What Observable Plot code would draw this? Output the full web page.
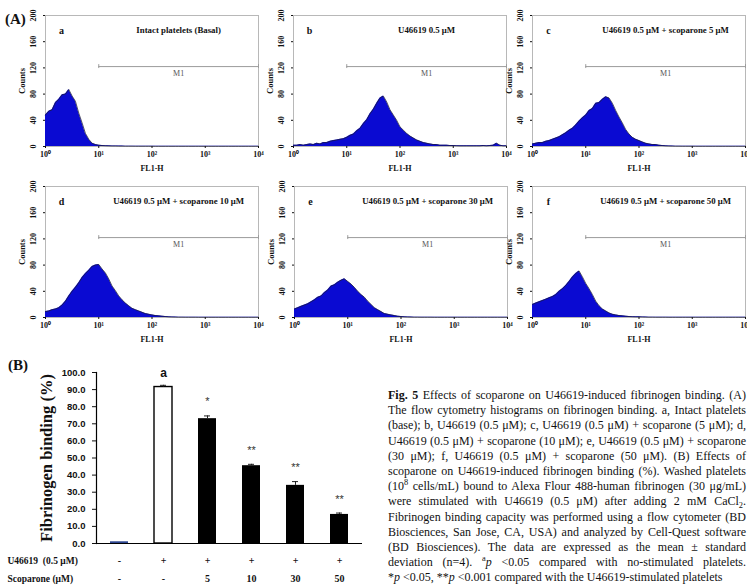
<!DOCTYPE html>
<html>
<head>
<meta charset="utf-8">
<script src="https://cdn.jsdelivr.net/npm/d3@7"></script>
<script src="https://cdn.jsdelivr.net/npm/@observablehq/plot@0.6"></script>
<style>
  body { margin: 0; background: #fff; }
  #fig { position: relative; width: 747px; height: 586px; overflow: hidden; background: #fff; font-family: "Liberation Serif", serif; color: #111; }
  .panel { position: absolute; }
  .panel svg { overflow: visible; }
  .tag { position: absolute; font-weight: bold; font-size: 15px; line-height: 1; }
  #caption { position: absolute; left: 388px; top: 388px; width: 358px; font-size: 12px; line-height: 15.2px; color: #111; }
  #caption div { white-space: nowrap; text-align: justify; text-align-last: justify; }
  #caption div.last { text-align-last: left; }
  #caption sup, #caption sub { font-size: 0.7em; line-height: 0; }
</style>
</head>
<body>
<div id="fig">
  <div class="tag" style="left:5px;top:12px">(A)</div>
  <div class="tag" style="left:8px;top:358px">(B)</div>
  <div id="caption"></div>
</div>
<script>
// ---- (A) flow cytometry histograms: counts per FL1-H bin, 16 bins per decade from 10^0 to 10^4 ----
const binsPerDecade = 16;
const panelLetters = ["a", "b", "c", "d", "e", "f"];
const panelTitles = [
  "Intact platelets (Basal)",
  "U46619 0.5 μM",
  "U46619 0.5 μM + scoparone 5 μM",
  "U46619 0.5 μM + scoparone 10 μM",
  "U46619 0.5 μM + scoparone 30 μM",
  "U46619 0.5 μM + scoparone 50 μM"
];
const countsBasal = [
  48, 54, 56, 67, 72, 79, 80, 87, 77, 69, 51, 36, 20, 11, 5, 3,
  2, 1.5, 1.2, 1, 0.8, 0.8, 0.6, 0.6, 0.5, 0.5, 0.5, 0.4, 0.4, 0.4, 0.4, 0.4,
  0.4, 0.3, 0.3, 0.3, 0.3, 0.3, 0.3, 0.3, 0.3, 0.3, 0.3, 0.3, 0.3, 0.3, 0.3, 0.3,
  0.3, 0.3, 0.3, 0.3, 0.3, 0.3, 0.3, 0.3, 0.3, 0.3, 0.3, 0.3, 0.3, 0.3, 0.3, 0.3, 0.3
];
const countsU46619 = [
  2, 2, 3, 2, 3, 4, 3, 5, 4, 6, 6, 8, 9, 10, 11, 12,
  14, 17, 19, 24, 28, 35, 41, 50, 57, 66, 74, 77, 68, 56, 48, 40,
  30, 25, 20, 16, 13, 10, 8, 6, 5, 4, 3, 3, 2, 2, 2, 1.5,
  1.5, 1.2, 1, 1, 1, 1, 1, 1, 1, 1.5, 1, 1.5, 2, 5, 2, 1, 1
];
const countsScop5 = [
  4, 5, 6, 6, 8, 9, 11, 13, 15, 18, 21, 25, 28, 33, 39, 44,
  48, 55, 58, 66, 67, 72, 76, 74, 66, 55, 45, 36, 26, 19, 14, 11,
  9, 7, 5, 4, 3, 3, 2, 1.5, 1, 0.8, 0.6, 0.5, 0.5, 0.4, 0.4, 0.4,
  0.4, 0.3, 0.3, 0.3, 0.3, 0.3, 0.3, 0.3, 0.3, 0.3, 0.3, 0.3, 0.3, 0.3, 0.3, 0.3, 0.3
];
const countsScop10 = [
  9, 10, 12, 13, 15, 19, 25, 33, 40, 46, 53, 61, 67, 72, 78, 80,
  81, 74, 68, 59, 48, 41, 33, 27, 22, 18, 14, 12, 10, 8, 6, 5,
  4, 3, 2.5, 2, 1.5, 1, 0.8, 0.6, 0.5, 0.5, 0.4, 0.4, 0.4, 0.4, 0.3, 0.3,
  0.3, 0.3, 0.3, 0.3, 0.3, 0.3, 0.3, 0.3, 0.3, 0.3, 0.3, 0.3, 0.3, 0.3, 0.3, 0.3, 0.3
];
const countsScop30 = [
  13, 15, 17, 19, 21, 24, 27, 31, 33, 38, 42, 48, 50, 54, 57, 59,
  55, 51, 46, 40, 35, 31, 25, 20, 15, 12, 9, 6, 5, 4, 3, 2,
  1.5, 1, 0.8, 0.6, 0.5, 0.5, 0.4, 0.4, 0.4, 0.4, 0.3, 0.3, 0.3, 0.3, 0.3, 0.3,
  0.3, 0.3, 0.3, 0.3, 0.3, 0.3, 0.3, 0.3, 0.3, 0.3, 0.3, 0.3, 0.3, 0.3, 0.3, 0.3, 0.3
];
const countsScop50 = [
  20, 22, 24, 26, 28, 30, 32, 35, 40, 44, 49, 55, 62, 67, 71, 62,
  52, 44, 35, 25, 18, 13, 10, 7, 5, 4, 3, 2.5, 2, 1.5, 1.2, 1,
  1, 0.8, 0.6, 0.5, 0.5, 0.4, 0.4, 0.4, 0.4, 0.3, 0.3, 0.3, 0.3, 0.3, 0.3, 0.3,
  0.3, 0.3, 0.3, 0.3, 0.3, 0.3, 0.3, 0.3, 0.3, 0.3, 0.3, 0.3, 0.3, 0.3, 0.3, 0.3, 0.3
];
const histCounts = [countsBasal, countsU46619, countsScop5, countsScop10, countsScop30, countsScop50];
const fl1Ticks = [1, 10, 100, 1000, 10000];
const fl1TickLabels = ["10⁰", "10¹", "10²", "10³", "10⁴"];
const countTicks = [0, 40, 80, 120, 160, 200];
const gateM1 = [10, 10000];   // M1 marker range on FL1-H
const m1Level = 122;          // height at which the M1 marker is drawn

// ---- (B) fibrinogen binding (%), mean ± SD ----
const groups = ["basal", "U46619", "scop5", "scop10", "scop30", "scop50"];
const bindingMean = [1.0, 91.5, 73.0, 45.5, 34.0, 17.0];
const bindingSD = [0.2, 1.0, 1.6, 0.8, 2.2, 0.8];
const sigMarks = ["", "a", "*", "**", "**", "**"];
const u46619Row = ["-", "+", "+", "+", "+", "+"];
const scoparoneRow = ["-", "-", "5", "10", "30", "50"];
const bindingTicks = [0, 10, 20, 30, 40, 50, 60, 70, 80, 90, 100];

const captionLines = [
  '<b>Fig. 5</b> Effects of scoparone on U46619-induced fibrinogen binding. (A)',
  'The flow cytometry histograms on fibrinogen binding. a, Intact platelets',
  '(base); b, U46619 (0.5 μM); c, U46619 (0.5 μM) + scoparone (5 μM); d,',
  'U46619 (0.5 μM) + scoparone (10 μM); e, U46619 (0.5 μM) + scoparone',
  '(30 μM); f, U46619 (0.5 μM) + scoparone (50 μM). (B) Effects of',
  'scoparone on U46619-induced fibrinogen binding (%). Washed platelets',
  '(10<sup>8</sup> cells/mL) bound to Alexa Flour 488-human fibrinogen (30 μg/mL)',
  'were stimulated with U46619 (0.5 μM) after adding 2 mM CaCl<sub>2</sub>.',
  'Fibrinogen binding capacity was performed using a flow cytometer (BD',
  'Biosciences, San Jose, CA, USA) and analyzed by Cell-Quest software',
  '(BD Biosciences). The data are expressed as the mean ± standard',
  'deviation (n=4). <sup>a</sup><i>p</i> &lt;0.05 compared with no-stimulated platelets.',
  '*<i>p</i> &lt;0.05, **<i>p</i> &lt;0.001 compared with the U46619-stimulated platelets'
];

const serif = '"Liberation Serif", "Times New Roman", serif';
const sans = '"Liberation Sans", Arial, sans-serif';

function histogram(counts, k) {
  const data = counts.map((c, i) => ({fl1: 10 ** (i / binsPerDecade), count: c}));
  const labelFor = new Map(fl1Ticks.map((t, i) => [t, fl1TickLabels[i]]));
  return Plot.plot({
    width: 260, height: 175,
    marginLeft: 45, marginRight: 2, marginTop: 15, marginBottom: 29,
    style: {background: "transparent", fontFamily: serif, fontWeight: "bold", fontSize: "8px", overflow: "visible", color: "#111"},
    x: {type: "log", domain: [1, 10000], axis: null},
    y: {domain: [0, 200], axis: null},
    marks: [
      Plot.frame({stroke: "#b8b8b8"}),
      Plot.areaY(data, {x: "fl1", y: "count", fill: "#0a0ad2"}),
      Plot.lineY(data, {x: "fl1", y: "count", stroke: "#1c1c3a", strokeWidth: 1, strokeOpacity: 0.75}),
      Plot.ruleY([{y: m1Level, x1: gateM1[0], x2: gateM1[1]}], {y: "y", x1: "x1", x2: "x2", stroke: "#9c9c9c"}),
      Plot.ruleX(gateM1.map(g => ({x: g, y1: m1Level - 3, y2: m1Level + 3})), {x: "x", y1: "y1", y2: "y2", stroke: "#9c9c9c"}),
      Plot.text(["M1"], {x: 316, y: m1Level - 11, fill: "#555", fontWeight: "normal", fontSize: 8}),
      Plot.text([panelLetters[k]], {x: 2, y: 177, fontSize: 10}),
      Plot.text([panelTitles[k]], {x: 316, y: 177, fontSize: 8.8}),
      Plot.axisX({ticks: fl1Ticks, tickFormat: d => labelFor.get(d), tickSize: 2, tickPadding: 3, label: null}),
      Plot.axisY({ticks: countTicks, tickFormat: () => "", tickSize: 2, label: null}),
      Plot.text(countTicks, {y: d => d, text: d => String(d), frameAnchor: "left", dx: -12, rotate: -90,
        textAnchor: "middle", lineAnchor: "middle"}),
      Plot.text(["FL1-H"], {frameAnchor: "bottom", dy: 22, lineAnchor: "middle"}),
      Plot.text(["Counts"], {frameAnchor: "left", dx: -23, rotate: -90, fontSize: 8.5,
        textAnchor: "middle", lineAnchor: "middle"})
    ]
  });
}

const fig = document.getElementById("fig");
const panelPos = [[0, 0], [248, 0], [487, 0], [0, 171], [249, 171], [487, 171]];
histCounts.forEach((counts, k) => {
  const wrap = document.createElement("div");
  wrap.className = "panel";
  wrap.style.left = panelPos[k][0] + "px";
  wrap.style.top = panelPos[k][1] + "px";
  wrap.appendChild(histogram(counts, k));
  fig.appendChild(wrap);
});

// bar chart
const bars = groups.map((g, i) => ({
  group: g, i, mean: bindingMean[i], sd: bindingSD[i],
  sig: sigMarks[i], u: u46619Row[i], s: scoparoneRow[i]
}));
const barFill = d => d.i === 0 ? "#2d4691" : d.i === 1 ? "#ffffff" : "#000000";
const barChart = Plot.plot({
  width: 380, height: 231,
  marginLeft: 96, marginRight: 18, marginTop: 17, marginBottom: 43,
  style: {background: "transparent", overflow: "visible", color: "#111", fontFamily: serif},
  x: {type: "band", domain: groups, paddingInner: 0.6, paddingOuter: 0.3, axis: null},
  y: {domain: [0, 100], axis: null},
  marks: [
    Plot.barY(bars, {x: "group", y: "mean", fill: barFill, stroke: d => d.i === 1 ? "#000" : "none", strokeWidth: 1.4}),
    Plot.ruleX(bars.filter(d => d.i > 0), {x: "group", y1: "mean", y2: d => d.mean + d.sd, stroke: "#222"}),
    Plot.tickY(bars.filter(d => d.i > 0), {x: "group", y: d => d.mean + d.sd, insetLeft: 6, insetRight: 6, stroke: "#222"}),
    Plot.ruleY([0], {stroke: "#000", strokeWidth: 1.2}),
    Plot.frame({anchor: "left", stroke: "#000", strokeWidth: 1.2}),
    Plot.axisY({ticks: bindingTicks, tickFormat: d => d.toFixed(1), tickSize: 4, tickPadding: 7,
      fontWeight: "bold", fontFamily: sans, fontSize: 9.5, label: null}),
    Plot.text(bars.filter(d => d.sig === "a"), {x: "group", y: d => d.mean + d.sd, text: "sig", dy: -12,
      fontFamily: sans, fontWeight: "bold", fontSize: 12}),
    Plot.text(bars.filter(d => d.sig.startsWith("*")), {x: "group", y: d => d.mean + d.sd, text: "sig", dy: -14,
      fontFamily: sans, fontSize: 11, fill: "#333"}),
    Plot.text(bars, {x: "group", text: "u", frameAnchor: "bottom", dy: 17, lineAnchor: "middle", fontWeight: "bold", fontSize: 10}),
    Plot.text(bars, {x: "group", text: "s", frameAnchor: "bottom", dy: 35, lineAnchor: "middle", fontWeight: "bold", fontSize: 10}),
    Plot.text(["U46619  (0.5 μM)"], {frameAnchor: "bottom-left", dx: -89, dy: 17, textAnchor: "start", lineAnchor: "middle", fontWeight: "bold", fontSize: 9.5}),
    Plot.text(["Scoparone (μM)"], {frameAnchor: "bottom-left", dx: -89, dy: 35, textAnchor: "start", lineAnchor: "middle", fontWeight: "bold", fontSize: 9.5}),
    Plot.text(["Fibrinogen binding (%)"], {frameAnchor: "left", dx: -50, rotate: -90, textAnchor: "middle", lineAnchor: "middle",
      fontWeight: "bold", fontSize: 16.5})
  ]
});
const barWrap = document.createElement("div");
barWrap.className = "panel";
barWrap.style.left = "0px";
barWrap.style.top = "355px";
barWrap.appendChild(barChart);
fig.appendChild(barWrap);

// caption, one justified line per row
const cap = document.getElementById("caption");
captionLines.forEach((html, i) => {
  const line = document.createElement("div");
  if (i === captionLines.length - 1) line.className = "last";
  line.innerHTML = html;
  cap.appendChild(line);
});
</script>
</body>
</html>
